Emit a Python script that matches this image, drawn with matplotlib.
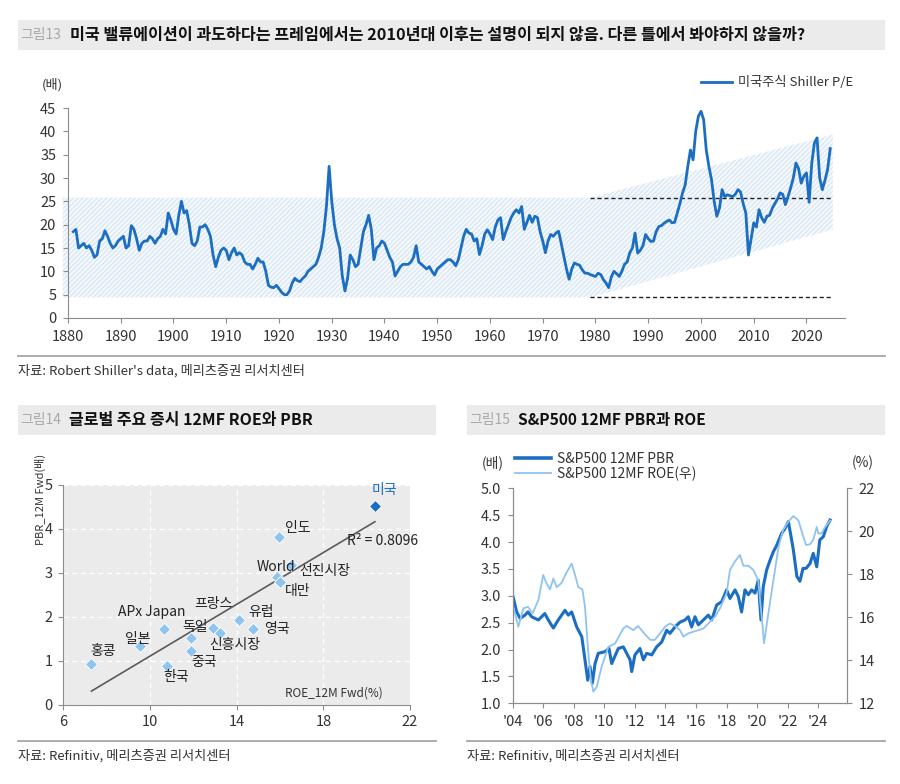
import matplotlib
matplotlib.use('Agg')
import matplotlib.pyplot as plt
from matplotlib.patches import Rectangle
from matplotlib.lines import Line2D
import numpy as np

plt.rcParams['font.family'] = ['Noto Sans CJK KR', 'DejaVu Sans']
plt.rcParams['axes.unicode_minus'] = False
plt.rcParams['hatch.linewidth'] = 1.0

# ---- data: Shiller CAPE, semi-annual from 1881.0 ----
cape = [
    18.5, 19.0, 15.0, 15.5, 16.0, 15.0, 15.5, 14.5, 13.0, 13.5, 16.5, 17.0, 18.7, 17.5, 16.0, 15.0, 15.5, 16.5, 17.0, 17.5,
    15.0, 15.5, 19.8, 19.0, 17.0, 14.5, 16.0, 16.5, 16.5, 17.5, 17.0, 16.0, 17.0, 17.5, 19.0, 18.0, 22.5, 21.0, 19.0, 18.0,
    22.0, 25.0, 22.5, 23.0, 20.0, 16.0, 15.5, 16.5, 19.5, 19.5, 20.0, 19.0, 17.5, 13.5, 11.0, 13.0, 14.5, 15.0, 14.5, 12.5,
    14.0, 15.0, 13.5, 14.0, 13.5, 12.0, 11.5, 11.5, 10.5, 11.5, 12.8, 12.0, 12.0, 10.0, 7.0, 6.6, 6.5, 7.0, 6.3, 5.5,
    5.0, 5.0, 5.8, 7.5, 8.5, 8.0, 7.8, 8.5, 9.0, 10.0, 10.5, 11.0, 11.5, 13.0, 15.0, 18.5, 24.0, 32.5, 25.0, 20.0,
    17.0, 15.0, 9.0, 5.8, 8.5, 13.5, 12.5, 11.0, 11.5, 15.0, 18.5, 20.0, 22.0, 19.0, 12.5, 15.0, 15.5, 16.5, 16.0, 14.5,
    13.0, 12.0, 9.0, 10.0, 11.0, 11.5, 11.5, 11.5, 12.0, 13.0, 15.5, 12.0, 11.5, 11.0, 10.5, 11.0, 10.0, 9.2, 10.5, 11.0,
    11.5, 12.0, 12.5, 12.5, 12.0, 11.2, 12.5, 15.0, 17.5, 19.0, 18.2, 18.0, 16.5, 17.0, 13.6, 15.5, 18.0, 18.9, 18.0, 16.8,
    19.5, 21.0, 21.5, 16.8, 18.5, 20.0, 21.5, 22.5, 23.2, 22.5, 23.9, 19.0, 20.5, 22.0, 20.5, 21.8, 21.5, 18.5, 16.5, 14.0,
    16.5, 17.9, 17.5, 18.2, 18.6, 16.0, 13.2, 10.5, 8.3, 10.5, 11.8, 11.5, 11.3, 10.3, 9.6, 9.6, 9.3, 9.1, 8.9, 9.6,
    9.3, 8.2, 7.5, 6.5, 8.8, 10.0, 9.5, 8.9, 10.0, 11.5, 12.0, 14.0, 15.0, 18.2, 13.9, 14.5, 15.5, 17.9, 17.0, 16.4,
    16.5, 18.5, 19.6, 19.8, 20.3, 20.7, 21.0, 20.4, 20.5, 22.5, 24.5, 26.8, 28.5, 32.5, 36.0, 33.9, 40.0, 43.2, 44.3, 42.5,
    36.0, 32.5, 29.6, 25.0, 21.8, 23.5, 27.5, 26.0, 26.4, 26.2, 26.0, 26.5, 27.5, 27.0, 24.5, 22.5, 13.5, 17.0, 20.4, 19.5,
    23.2, 21.5, 20.5, 21.8, 22.0, 23.5, 24.5, 25.5, 26.8, 26.5, 24.3, 26.0, 27.9, 30.0, 33.2, 32.0, 28.9, 30.4, 31.1, 24.8,
    33.2, 37.5, 38.6, 30.0, 27.5, 29.5, 31.8, 36.3,
]
cape_start = 1881
band_year = [1879, 1979, 2025]
band_hi = [25.8, 25.8, 39.3]
band_lo = [4.4, 4.4, 19.0]
ref_levels = [25.8, 4.5]
ref_span = (1979, 2025)

# ---- data: global markets ROE / PBR ----
mkt_name = ['홍콩', '일본', 'APx Japan', '한국', '독일', '중국', '프랑스', '신흥시장',
            '유럽', '영국', 'World', '대만', '선진시장', '인도', '미국']
mkt_roe = [7.3, 9.54, 10.65, 10.77, 11.88, 11.89, 12.89, 13.23, 14.09, 14.74, 15.88, 16.0, 16.51, 15.97, 20.38]
mkt_pbr = [0.93, 1.34, 1.72, 0.89, 1.52, 1.22, 1.75, 1.63, 1.93, 1.73, 2.92, 2.79, 3.18, 3.81, 4.52]
label_xy = [(7.82, 1.23), (9.42, 1.49), (10.1, 2.12), (11.2, 0.63), (12.08, 1.78), (12.5, 0.97),
            (12.92, 2.30), (13.9, 1.36), (15.15, 2.12), (15.85, 1.72), (15.82, 3.14), (16.82, 2.58),
            (18.08, 3.05), (16.82, 4.03), (20.8, 4.89)]

# ---- data: S&P500 12MF PBR / ROE ----
pbr_year = [2004.0, 2004.26, 2004.48, 2004.8, 2005.0, 2005.24, 2005.68, 2006.1, 2006.33, 2006.66, 2006.98,
            2007.42, 2007.64, 2007.86, 2008.19, 2008.52, 2008.73, 2008.91, 2009.06, 2009.21, 2009.39, 2009.6,
            2010.04, 2010.3, 2010.48, 2010.91, 2011.24, 2011.35, 2011.68, 2011.79, 2012.0, 2012.33, 2012.55,
            2012.77, 2013.1, 2013.42, 2013.75, 2014.08, 2014.29, 2014.62, 2014.95, 2015.28, 2015.49, 2015.71,
            2015.93, 2016.15, 2016.48, 2016.8, 2017.02, 2017.35, 2017.68, 2018.0, 2018.22, 2018.55, 2018.76,
            2018.98, 2019.2, 2019.42, 2019.64, 2019.86, 2020.07, 2020.25, 2020.4, 2020.62, 2020.84, 2021.06,
            2021.28, 2021.6, 2021.82, 2022.04, 2022.2, 2022.37, 2022.6, 2022.8, 2023.0, 2023.2, 2023.46,
            2023.67, 2023.9, 2024.1, 2024.33, 2024.55, 2024.77]
pbr_val = [3.01, 2.70, 2.58, 2.64, 2.70, 2.61, 2.55, 2.67, 2.55, 2.40, 2.55,
           2.73, 2.64, 2.70, 2.42, 2.24, 1.81, 1.43, 1.68, 1.37, 1.74, 1.93,
           1.96, 2.02, 1.74, 2.02, 2.05, 1.99, 1.81, 1.59, 1.90, 2.02, 1.81,
           1.93, 1.90, 2.05, 2.14, 2.36, 2.30, 2.42, 2.51, 2.55, 2.61, 2.42,
           2.61, 2.46, 2.55, 2.64, 2.55, 2.83, 2.89, 3.11, 2.95, 3.11, 2.99,
           2.70, 3.11, 3.02, 3.11, 3.05, 3.29, 2.55, 3.17, 3.48, 3.66, 3.82,
           3.94, 4.16, 4.25, 4.38, 4.13, 3.85, 3.36, 3.27, 3.51, 3.51, 3.60,
           3.79, 3.54, 4.04, 4.10, 4.29, 4.41]
roe_year = [2004.04, 2004.37, 2004.7, 2005.0, 2005.3, 2005.68, 2006.0, 2006.2, 2006.44, 2006.66, 2006.88,
            2007.2, 2007.5, 2007.86, 2008.08, 2008.3, 2008.56, 2008.73, 2008.95, 2009.12, 2009.28, 2009.5,
            2009.82, 2010.26, 2010.7, 2011.24, 2011.46, 2011.9, 2012.2, 2012.55, 2013.0, 2013.3, 2013.64,
            2013.97, 2014.29, 2014.62, 2014.95, 2015.17, 2015.49, 2015.82, 2016.15, 2016.48, 2016.8, 2017.24,
            2017.57, 2018.0, 2018.22, 2018.55, 2018.87, 2019.1, 2019.42, 2019.75, 2020.07, 2020.3, 2020.45,
            2020.7, 2021.06, 2021.4, 2021.7, 2022.04, 2022.37, 2022.7, 2023.0, 2023.2, 2023.46, 2023.67,
            2023.9, 2024.0, 2024.2, 2024.45, 2024.77]
roe_val = [16.49, 15.56, 16.42, 16.49, 16.18, 16.8, 17.97, 17.6, 17.3, 17.8, 17.4,
           17.6, 18.05, 18.5, 17.97, 17.4, 17.3, 16.49, 14.33, 13.08, 12.54, 12.77,
           13.7, 14.63, 14.78, 15.48, 15.6, 15.4, 15.6, 15.3, 14.95, 14.95, 15.25,
           15.56, 15.71, 15.6, 15.4, 15.1, 15.25, 15.33, 15.4, 15.48, 15.71, 16.03,
           16.42, 17.12, 18.2, 18.6, 18.9, 18.4, 18.4, 18.2, 17.72, 16.0, 14.79,
           16.03, 17.72, 19.28, 20.06, 20.45, 20.71, 20.5, 19.8, 19.36, 19.4, 19.6,
           20.2, 19.9, 19.9, 20.2, 20.5]
sp_years = list(range(2004, 2025, 2))

BLUE = '#1b6ec2'
LIGHT = '#8fc3f0'
SPINE = '#8c8c8c'
TXT = '#333333'

W, H = 900, 784
fig = plt.figure(figsize=(9, 7.84), dpi=100)


def fx(px):
    return px / W


def fy(py):
    return 1 - py / H


def title_bar(x0, x1, y0, y1, num, text, size, tx):
    fig.patches.append(Rectangle((fx(x0), fy(y1)), (x1 - x0) / W, (y1 - y0) / H,
                                 transform=fig.transFigure, facecolor='#ebebeb', edgecolor='none'))
    fig.text(fx(x0 + 2), fy((y0 + y1) / 2), num, color='#a8a8a8', fontsize=10, va='center', ha='left')
    fig.text(fx(tx), fy((y0 + y1) / 2), text, color='#111111', fontsize=size, fontweight='bold',
             va='center', ha='left')


def sep(x0, x1, y):
    fig.add_artist(Line2D([fx(x0), fx(x1)], [fy(y), fy(y)], transform=fig.transFigure,
                          color='#a6a6a6', lw=1.3))


def style(ax, sides=('left', 'bottom')):
    for s in ['top', 'right', 'left', 'bottom']:
        ax.spines[s].set_visible(s in sides)
        ax.spines[s].set_color(SPINE)
    ax.tick_params(direction='out', length=3.5, color=SPINE, labelcolor=TXT, labelsize=10.5)


# ---------------- 그림13 ----------------
title_bar(18, 885, 20, 50, '그림13',
          '미국 밸류에이션이 과도하다는 프레임에서는 2010년대 이후는 설명이 되지 않음. 다른 틀에서 봐야하지 않을까?',
          11.7, 70)
ax1 = fig.add_axes([fx(68), fy(318), (845 - 68) / W, (318 - 108) / H])
ax1.fill_between(band_year, band_lo, band_hi, facecolor='#f7fafd', edgecolor='#d9e7f5',
                 hatch='///////', linewidth=0, clip_on=False, zorder=1)
cape_year = cape_start + 0.5 * np.arange(len(cape))
ax1.plot(cape_year, cape, color=BLUE, lw=2, zorder=3, label='미국주식 Shiller P/E')
ax1.hlines(ref_levels, ref_span[0], ref_span[1], colors='#222222', linestyles=(0, (3, 2)), lw=1, zorder=2)
ax1.set_xlim(1880, 2027.3)
ax1.set_ylim(0, 45)
ax1.set_xticks(range(1880, 2021, 10))
ax1.set_yticks(range(0, 46, 5))
style(ax1)
ax1.tick_params(pad=5)
fig.text(fx(52), fy(85), '(배)', fontsize=9.5, color=TXT, ha='center', va='center')
ax1.legend(loc='center right', bbox_to_anchor=(fx(853), fy(83)), bbox_transform=fig.transFigure,
           frameon=False, fontsize=9.5, handlelength=2.4, handletextpad=0.4, borderpad=0, borderaxespad=0,
           labelcolor=TXT)
sep(18, 885, 356)
fig.text(fx(18), fy(371), "자료: Robert Shiller's data, 메리츠증권 리서치센터", fontsize=9.5, color=TXT,
         ha='left', va='center')

# ---------------- 그림14 ----------------
title_bar(18, 436, 405, 435, '그림14', '글로벌 주요 증시 12MF ROE와 PBR', 11.5, 69)
ax2 = fig.add_axes([fx(63.3), fy(705), (410 - 63.3) / W, 220 / H], facecolor='#ebebeb')
ax2.grid(color='white', linestyle=(0, (4, 3)), lw=0.9)
ax2.set_axisbelow(True)
coef = np.polyfit(mkt_roe, mkt_pbr, 1)
xs = np.array([min(mkt_roe), max(mkt_roe)])
ax2.plot(xs, np.polyval(coef, xs), color='#5a5a5a', lw=1.2, zorder=2)
for i, name in enumerate(mkt_name):
    c = BLUE if name == '미국' else LIGHT
    ax2.plot(mkt_roe[i], mkt_pbr[i], marker='D', ms=6, color=c, mec='white', mew=0.6, zorder=3)
    ax2.text(label_xy[i][0], label_xy[i][1], name, fontsize=10, ha='center', va='center',
             color=BLUE if name == '미국' else '#222222', zorder=4)
ax2.text(19.08, 3.73, 'R² = 0.8096', fontsize=10, ha='left', va='center', color='#222222')
ax2.text(20.75, 0.27, 'ROE_12M Fwd(%)', fontsize=8.5, ha='right', va='center', color=TXT)
ax2.set_xlim(6, 22)
ax2.set_ylim(0, 5)
ax2.set_xticks([6, 10, 14, 18, 22])
ax2.set_yticks(range(0, 6))
style(ax2)
ax2.tick_params(pad=4)
fig.text(fx(40), fy(499), 'PBR_12M Fwd(배)', fontsize=8, rotation=90, color=TXT, ha='center', va='center')
sep(18, 436, 741)
fig.text(fx(18), fy(756), '자료: Refinitiv, 메리츠증권 리서치센터', fontsize=9.5, color=TXT, ha='left', va='center')

# ---------------- 그림15 ----------------
title_bar(467, 885, 405, 435, '그림15', 'S&P500 12MF PBR과 ROE', 11.2, 518)
ax3 = fig.add_axes([fx(512.7), fy(703.3), (846.7 - 512.7) / W, 215 / H])
ax4 = ax3.twinx()
ax3.plot(pbr_year, pbr_val, color=BLUE, lw=2.2)
ax4.plot(roe_year, roe_val, color=LIGHT, lw=1.3)
ax3.set_xlim(2004, 2025.86)
ax3.set_ylim(1, 5)
ax4.set_ylim(12, 22)
ax3.set_yticks(np.arange(1.0, 5.01, 0.5))
ax3.set_yticklabels([f'{v:.1f}' for v in np.arange(1.0, 5.01, 0.5)])
ax4.set_yticks(range(12, 23, 2))
ax3.set_xticks(sp_years)
ax3.set_xticklabels([f"'{y % 100:02d}" for y in sp_years])
style(ax3, ('left', 'bottom', 'right'))
style(ax4, ('left', 'bottom', 'right'))
ax3.tick_params(pad=5)
ax4.tick_params(pad=5)
fig.text(fx(493), fy(463), '(배)', fontsize=10, color=TXT, ha='center', va='center')
fig.text(fx(863), fy(463), '(%)', fontsize=10, color=TXT, ha='center', va='center')
handles = [Line2D([], [], color=BLUE, lw=2.6), Line2D([], [], color=LIGHT, lw=1.3)]
ax3.legend(handles, ['S&P500 12MF PBR', 'S&P500 12MF ROE(우)'], loc='upper left',
           bbox_to_anchor=(fx(515), fy(452)), bbox_transform=fig.transFigure, frameon=False,
           fontsize=10, handlelength=2.6, handletextpad=0.4, labelspacing=0.05, borderpad=0,
           borderaxespad=0, labelcolor=TXT)
sep(467, 885, 741)
fig.text(fx(467), fy(756), '자료: Refinitiv, 메리츠증권 리서치센터', fontsize=9.5, color=TXT, ha='left', va='center')

fig.savefig('out.png', dpi=100)
